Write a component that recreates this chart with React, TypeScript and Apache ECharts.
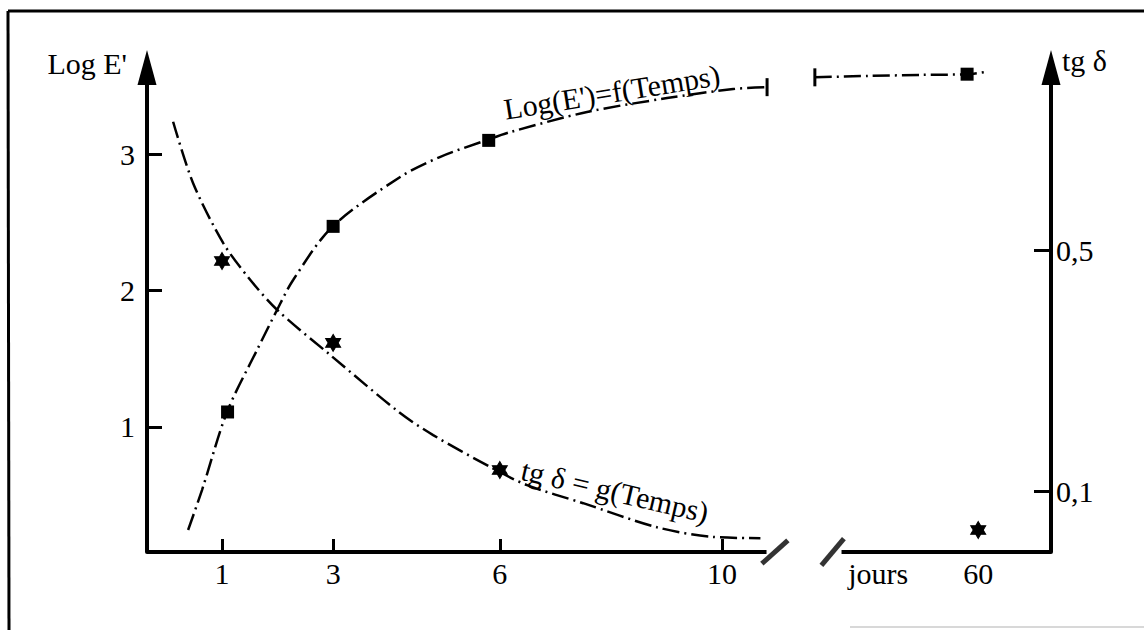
import React, { useEffect, useRef } from "react";
import * as echarts from "echarts";

const FONT = "'Liberation Serif', 'Times New Roman', serif";
const INK = "#000";

// ---- x axis (days, broken between 10 and 60) ----
const xTickDays = [1, 3, 6, 10];
const xLabelDays = [1, 3, 6, 10, 60];
const xLabelTexts = ["1", "3", "6", "10", "60"];
const unitLabel = "jours";

// ---- left axis: Log E' ----
const logETicks = [1, 2, 3];
const logELabels = ["1", "2", "3"];

// ---- right axis: tg delta ----
const tgTicks = [0.1, 0.5];
const tgLabels = ["0,1", "0,5"];

// ---- measured points ----
const logEPointDays = [1.1, 3.0, 5.8, 58];
const logEPointValues = [1.11, 2.47, 3.1, 3.585];

const tgPointDays = [1, 3, 6, 60];
const tgPointValues = [0.483, 0.347, 0.136, 0.0365];

// ---- fitted curves ----
const logECurveADays = [0.39, 0.64, 1.09, 1.63, 1.99, 2.28, 2.98, 4.2, 4.92, 5.77, 6.18, 7.57, 9.01, 10.2, 10.81];
const logECurveAValues = [0.245, 0.538, 1.11, 1.564, 1.857, 2.077, 2.465, 2.83, 2.978, 3.103, 3.16, 3.308, 3.41, 3.476, 3.49];
const logECurveBDays = [30.6, 40, 50, 58, 61];
const logECurveBValues = [3.562, 3.572, 3.58, 3.585, 3.6];

const tgCurveDays = [0.12, 0.48, 1.02, 1.47, 1.99, 2.96, 4.2, 4.8, 5.83, 6.49, 7.5, 8.83, 9.84, 10.69];
const tgCurveValues = [0.714, 0.612, 0.513, 0.456, 0.402, 0.326, 0.231, 0.194, 0.141, 0.111, 0.081, 0.041, 0.025, 0.023];

// ---- broken-axis transform (axis units) ----
const BREAK_AFTER_DAY = 11;
const FAR_ANCHOR_DAY = 60;
const FAR_ANCHOR_POS = 14.61;
const FAR_SCALE = 0.1;
const toAxis = (d: number) => (d <= BREAK_AFTER_DAY ? d : FAR_ANCHOR_POS + (d - FAR_ANCHOR_DAY) * FAR_SCALE);

const X_MIN = -0.35;
const X_MAX = 15.92;
const AXIS_GAP_START = 10.8;
const AXIS_GAP_END = 12.15;
const SLASH_POS = [10.95, 11.99];
const SLASH_ROT = [-48, -40];
const UNIT_POS = 12.81;

const LOG_MIN = 0.084;
const LOG_MAX = 3.634;
const TG_MIN = 0;
const TG_MAX = 0.804;

const dashDot = [17, 5, 2, 5];

// six-pointed star, both triangles with the same winding so the centre stays filled
const hexagram = "path://M0,-10L8.66,5L-8.66,5Z M0,10L-8.66,-5L8.66,-5Z";

const xLabelPositions = [...xLabelDays.map(toAxis), UNIT_POS];
const xLabelStrings = [...xLabelTexts, unitLabel];

function pairs(days: number[], vals: number[]) {
  return days.map((d, i) => [toAxis(d), vals[i]]);
}

function buildOption(): any {
  const curveA: any[] = pairs(logECurveADays, logECurveAValues);
  const lastA = curveA[curveA.length - 1];
  curveA[curveA.length - 1] = { value: lastA, symbol: "rect", symbolSize: [3, 18] };
  const curveB: any[] = pairs(logECurveBDays, logECurveBValues);
  curveB[0] = { value: curveB[0], symbol: "rect", symbolSize: [3, 18] };

  const textStyle = { fontFamily: FONT, fontSize: 30, color: INK };

  return {
    animation: false,
    backgroundColor: "#fff",
    grid: { left: 147, right: 93, top: 67.5, bottom: 78, containLabel: false },
    xAxis: {
      type: "value",
      min: X_MIN,
      max: X_MAX,
      axisLine: { show: false, onZero: false },
      splitLine: { show: false },
      axisTick: {
        show: true,
        inside: true,
        length: 13,
        customValues: xTickDays.map(toAxis),
        lineStyle: { color: INK, width: 3 },
      },
      axisLabel: {
        show: true,
        margin: 6,
        customValues: xLabelPositions,
        ...textStyle,
        formatter: (v: number) => {
          const i = xLabelPositions.findIndex((p) => Math.abs(p - v) < 1e-6);
          return i >= 0 ? xLabelStrings[i] : "";
        },
      },
    },
    yAxis: [
      {
        type: "value",
        position: "left",
        min: LOG_MIN,
        max: LOG_MAX,
        splitLine: { show: false },
        axisLine: {
          show: true,
          onZero: false,
          symbol: ["none", "triangle"],
          symbolSize: [19, 35],
          lineStyle: { color: INK, width: 4 },
        },
        axisTick: {
          show: true,
          inside: true,
          length: 15,
          customValues: logETicks,
          lineStyle: { color: INK, width: 3 },
        },
        axisLabel: {
          show: true,
          margin: 12,
          customValues: logETicks,
          ...textStyle,
          formatter: (v: number) => {
            const i = logETicks.findIndex((p) => Math.abs(p - v) < 1e-6);
            return i >= 0 ? logELabels[i] : "";
          },
        },
      },
      {
        type: "value",
        position: "right",
        min: TG_MIN,
        max: TG_MAX,
        splitLine: { show: false },
        axisLine: {
          show: true,
          onZero: false,
          symbol: ["none", "triangle"],
          symbolSize: [19, 35],
          lineStyle: { color: INK, width: 4 },
        },
        axisTick: {
          show: true,
          inside: true,
          length: 17,
          customValues: tgTicks,
          lineStyle: { color: INK, width: 3 },
        },
        axisLabel: {
          show: true,
          margin: 5,
          customValues: tgTicks,
          ...textStyle,
          formatter: (v: number) => {
            const i = tgTicks.findIndex((p) => Math.abs(p - v) < 1e-6);
            return i >= 0 ? tgLabels[i] : "";
          },
        },
      },
    ],
    graphic: [
      { type: "line", shape: { x1: 8, y1: 11, x2: 1144, y2: 11 }, style: { stroke: INK, lineWidth: 3 } },
      { type: "line", shape: { x1: 8, y1: 11, x2: 9, y2: 630 }, style: { stroke: INK, lineWidth: 3 } },
      { type: "line", shape: { x1: 850, y1: 627, x2: 1144, y2: 627 }, style: { stroke: "#d8d8d8", lineWidth: 2 } },
      {
        type: "text",
        x: 127,
        y: 63,
        style: { text: "Log E'", font: `30px ${FONT}`, fill: INK, align: "right", verticalAlign: "middle" },
      },
      {
        type: "text",
        x: 1062,
        y: 60,
        style: { text: "tg δ", font: `30px ${FONT}`, fill: INK, align: "left", verticalAlign: "middle" },
      },
      {
        type: "text",
        x: 612,
        y: 92,
        rotation: 0.16,
        style: { text: "Log(E')=f(Temps)", font: `30px ${FONT}`, fill: INK, align: "center", verticalAlign: "middle" },
      },
      {
        type: "text",
        x: 615,
        y: 491,
        rotation: -0.23,
        style: { text: "tg δ = g(Temps)", font: `30px ${FONT}`, fill: INK, align: "center", verticalAlign: "middle" },
      },
    ],
    series: [
      {
        name: "axe-1",
        type: "line",
        silent: true,
        clip: false,
        symbol: "none",
        yAxisIndex: 0,
        lineStyle: { color: INK, width: 4 },
        data: [
          [X_MIN, LOG_MIN],
          [AXIS_GAP_START, LOG_MIN],
        ],
        z: 3,
      },
      {
        name: "axe-2",
        type: "line",
        silent: true,
        clip: false,
        symbol: "none",
        yAxisIndex: 0,
        lineStyle: { color: INK, width: 4 },
        data: [
          [AXIS_GAP_END, LOG_MIN],
          [X_MAX, LOG_MIN],
        ],
        z: 3,
      },
      {
        name: "coupure",
        type: "scatter",
        silent: true,
        clip: false,
        yAxisIndex: 0,
        symbol: "rect",
        symbolSize: [5, 35],
        itemStyle: { color: INK },
        data: SLASH_POS.map((p, i) => ({ value: [p, LOG_MIN], symbolRotate: SLASH_ROT[i] })),
        z: 4,
      },
      {
        name: "Log(E')=f(Temps)",
        type: "line",
        yAxisIndex: 0,
        smooth: 0.3,
        symbol: "none",
        itemStyle: { color: INK },
        lineStyle: { color: INK, width: 2.5, type: dashDot },
        data: curveA,
        z: 5,
      },
      {
        name: "Log(E')=f(Temps) (suite)",
        type: "line",
        yAxisIndex: 0,
        smooth: 0.3,
        symbol: "none",
        itemStyle: { color: INK },
        lineStyle: { color: INK, width: 2.5, type: dashDot },
        data: curveB,
        z: 5,
      },
      {
        name: "tg δ = g(Temps)",
        type: "line",
        yAxisIndex: 1,
        smooth: 0.3,
        symbol: "none",
        itemStyle: { color: INK },
        lineStyle: { color: INK, width: 2.5, type: dashDot },
        data: pairs(tgCurveDays, tgCurveValues),
        z: 5,
      },
      {
        name: "Log E' mesures",
        type: "scatter",
        yAxisIndex: 0,
        symbol: "rect",
        symbolSize: 13,
        itemStyle: { color: INK, opacity: 1 },
        data: pairs(logEPointDays, logEPointValues),
        z: 6,
      },
      {
        name: "tg δ mesures",
        type: "scatter",
        yAxisIndex: 1,
        symbol: hexagram,
        symbolSize: [15, 17],
        itemStyle: { color: INK, opacity: 1, borderColor: INK, borderWidth: 1 },
        data: pairs(tgPointDays, tgPointValues),
        z: 6,
      },
    ],
  };
}

export default function App() {
  const ref = useRef<HTMLDivElement>(null);
  useEffect(() => {
    if (!ref.current) return;
    const chart = echarts.init(ref.current, undefined, { renderer: "svg" });
    chart.setOption(buildOption());
    return () => chart.dispose();
  }, []);
  return (
    <div
      ref={ref}
      style={{ position: "fixed", left: 0, top: 0, width: 1144, height: 630, background: "#fff" }}
    />
  );
}
